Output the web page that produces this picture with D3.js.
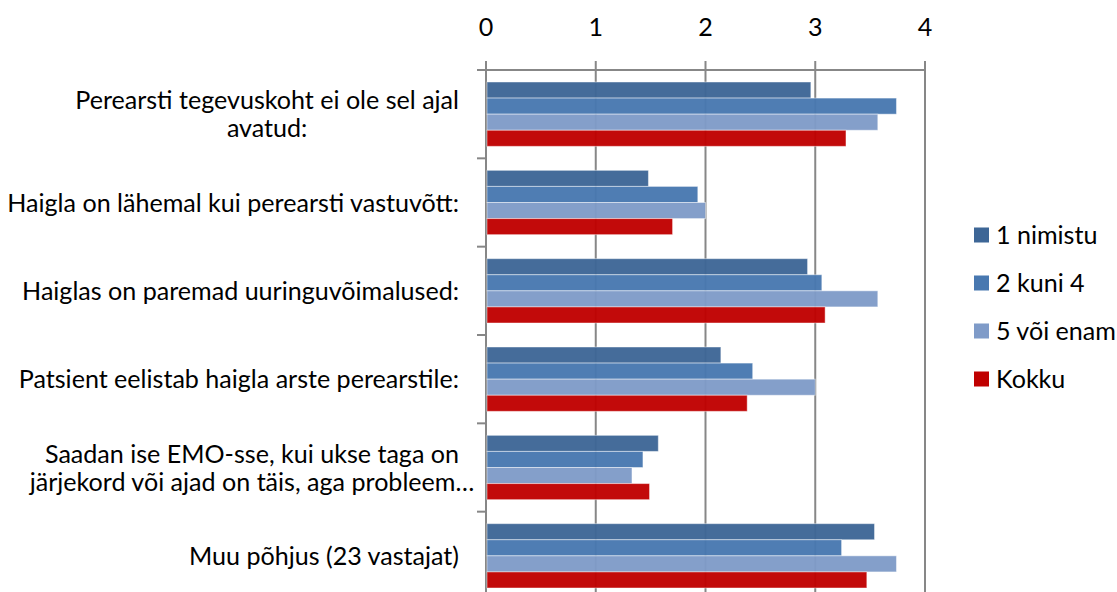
<!DOCTYPE html>
<html><head><meta charset="utf-8">
<script src="https://cdn.jsdelivr.net/npm/d3@7"></script>
<style>html,body{margin:0;padding:0;background:#fff;overflow:hidden}</style>
</head><body>
<svg id="chart" width="1117" height="592"></svg>
<script>
const categories = [
  "Perearsti tegevuskoht ei ole sel ajal avatud:",
  "Haigla on lähemal kui perearsti vastuvõtt:",
  "Haiglas on paremad uuringuvõimalused:",
  "Patsient eelistab haigla arste perearstile:",
  "Saadan ise EMO-sse, kui ukse taga on järjekord või ajad on täis, aga probleem…",
  "Muu põhjus (23 vastajat)"
];
const categoryLines = [
  ["Perearsti tegevuskoht ei ole sel ajal", "avatud:"],
  ["Haigla on lähemal kui perearsti vastuvõtt:"],
  ["Haiglas on paremad uuringuvõimalused:"],
  ["Patsient eelistab haigla arste perearstile:"],
  ["Saadan ise EMO-sse, kui ukse taga on", "järjekord või ajad on täis, aga probleem…"],
  ["Muu põhjus (23 vastajat)"]
];
const seriesNames = ["1 nimistu", "2 kuni 4", "5 või enam", "Kokku"];
const nimistu1 = [2.96, 1.48, 2.93, 2.14, 1.57, 3.54];
const kuni4    = [3.74, 1.93, 3.06, 2.43, 1.43, 3.24];
const voiEnam5 = [3.57, 2.00, 3.57, 3.00, 1.33, 3.74];
const kokku    = [3.28, 1.70, 3.09, 2.38, 1.49, 3.47];
const xTicks = [0, 1, 2, 3, 4];
const colors = ["#3d6696", "#4878b0", "#7f9bc8", "#c00000"];
const seriesValues = [nimistu1, kuni4, voiEnam5, kokku];

const svg = d3.select("#chart");
const fontFamily = "Lato, 'Open Sans', sans-serif";

const probe = svg.append("text").attr("font-family", fontFamily).attr("font-size", 100)
  .text("Haigla on lähemal kui perearsti vastuvõtt:");
const w100 = probe.node().getComputedTextLength();
probe.remove();
const fs = 100 * 452 / w100;

const plotTop = 70, plotBottom = 600;
const x = d3.scaleLinear().domain([0, 4]).range([486, 925]);
const y0 = d3.scaleBand().domain(categories).range([plotTop, plotBottom])
  .paddingInner(0.2717).paddingOuter(0.1358);
const y1 = d3.scaleBand().domain(seriesNames).range([0, y0.bandwidth()]);
const gridColor = "#878787";

svg.append("g").selectAll("line").data(xTicks).join("line")
  .attr("x1", d => x(d)).attr("x2", d => x(d))
  .attr("y1", 61).attr("y2", plotBottom)
  .attr("stroke", gridColor).attr("stroke-width", 2);

svg.append("line").attr("x1", x(0)).attr("x2", x(4)).attr("y1", plotTop).attr("y2", plotTop)
  .attr("stroke", gridColor).attr("stroke-width", 2);

const step = y0.step();
const boundaries = d3.range(categories.length + 1).map(i => plotTop + i * step);
svg.append("g").selectAll("line").data(boundaries).join("line")
  .attr("x1", 477).attr("x2", x(0)).attr("y1", d => d).attr("y2", d => d)
  .attr("stroke", gridColor).attr("stroke-width", 2);

const groups = svg.append("g").selectAll("g").data(categories).join("g")
  .attr("transform", d => `translate(0,${y0(d)})`);
groups.selectAll("rect")
  .data((c, i) => seriesNames.map((s, j) => ({s, j, v: seriesValues[j][i]})))
  .join("rect")
  .attr("x", x(0) + 1)
  .attr("y", d => y1(d.s))
  .attr("width", d => x(d.v) - x(0) - 1)
  .attr("height", y1.bandwidth())
  .attr("fill", d => colors[d.j])
  .attr("fill-opacity", 0.96)
  .attr("stroke", "rgba(255,255,255,0.45)")
  .attr("stroke-width", 1);

svg.append("g").selectAll("text").data(xTicks).join("text")
  .attr("x", d => x(d)).attr("y", 36)
  .attr("text-anchor", "middle")
  .attr("font-family", fontFamily).attr("font-size", fs).attr("fill", "#000")
  .text(d => d);

const labelRight = 459;
const lineH = 28;
categories.forEach((c, i) => {
  const lines = categoryLines[i];
  const cy = y0(c) + y0.bandwidth() / 2;
  if (lines.length === 1) {
    svg.append("text").attr("x", labelRight).attr("y", cy + fs * 0.36)
      .attr("text-anchor", "end").attr("font-family", fontFamily).attr("font-size", fs)
      .text(lines[0]);
  } else {
    const t0 = svg.append("text").attr("font-family", fontFamily).attr("font-size", fs).text(lines[0]);
    const w0 = t0.node().getComputedTextLength();
    t0.remove();
    const cx = labelRight - w0 / 2;
    lines.forEach((ln, k) => {
      svg.append("text").attr("x", cx)
        .attr("y", cy + (k - (lines.length - 1) / 2) * lineH + fs * 0.36)
        .attr("text-anchor", "middle")
        .attr("font-family", fontFamily).attr("font-size", fs)
        .text(ln);
    });
  }
});

const legend = svg.append("g").selectAll("g").data(seriesNames).join("g")
  .attr("transform", (d, i) => `translate(974,${235 + i * 48})`);
legend.append("rect").attr("x", 0).attr("y", -7.5).attr("width", 15).attr("height", 15)
  .attr("fill", (d, i) => colors[i]);
legend.append("text").attr("x", 22).attr("y", fs * 0.36)
  .attr("font-family", fontFamily).attr("font-size", fs).text(d => d);
</script>
</body></html>
